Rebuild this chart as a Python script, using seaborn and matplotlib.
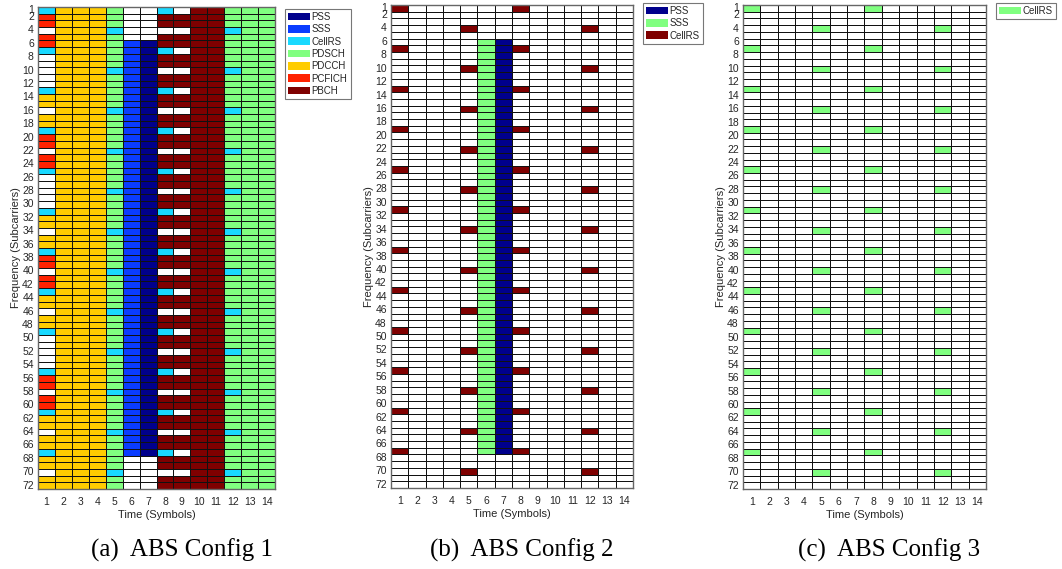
import numpy as np
import matplotlib
matplotlib.use("Agg")
import matplotlib.pyplot as plt
from matplotlib.colors import ListedColormap
from matplotlib.patches import Patch
import seaborn as sns

# ---------------- data ----------------
symbols = [1, 2, 3, 4, 5, 6, 7, 8, 9, 10, 11, 12, 13, 14]
n_subcarriers = 72
ytick_labels = [1, 2, 4, 6, 8, 10, 12, 14, 16, 18, 20, 22, 24, 26, 28, 30, 32, 34, 36,
                38, 40, 42, 44, 46, 48, 50, 52, 54, 56, 58, 60, 62, 64, 66, 68, 70, 72]

channels = ["none", "PSS", "SSS", "CellRS", "PDSCH", "PDCCH", "PCFICH", "PBCH"]

# CellRS rows (antenna port 0 / port 1 positions)
crs_rows_p0 = [1, 7, 13, 19, 25, 31, 37, 43, 49, 55, 61, 67]
crs_rows_p1 = [4, 10, 16, 22, 28, 34, 40, 46, 52, 58, 64, 70]
crs_symbols_p0 = [1, 8]
crs_symbols_p1 = [5, 12]
# PSS / SSS occupy subcarriers 6..67
sync_first, sync_last = 6, 67
pss_symbol, sss_symbol = 7, 6
# control region in symbol 1: content of each 6-subcarrier REG group
ctrl_groups = ["PCFICH", "none", "PDCCH", "PCFICH", "none", "PDCCH",
               "PCFICH", "PDCCH", "none", "PCFICH", "PDCCH", "PDCCH"]
pdcch_symbols = [2, 3, 4]
pbch_symbols = [8, 9, 10, 11]
pdsch_symbols = [5, 12, 13, 14]

# ---------------- grids ----------------
C = {n: i for i, n in enumerate(channels)}

def grid_config1():
    g = np.zeros((n_subcarriers, len(symbols)), dtype=int)
    for s in pdcch_symbols:
        g[:, s - 1] = C["PDCCH"]
    for s in pdsch_symbols:
        g[:, s - 1] = C["PDSCH"]
    for s in pbch_symbols:
        g[:, s - 1] = C["PBCH"]
    for k, kind in enumerate(ctrl_groups):
        g[6 * k:6 * k + 6, 0] = C[kind]
    g[sync_first - 1:sync_last, sss_symbol - 1] = C["SSS"]
    g[sync_first - 1:sync_last, pss_symbol - 1] = C["PSS"]
    # reference signals (port 0 and reserved port 1 positions)
    for r in crs_rows_p0:
        g[r - 1, 0] = C["CellRS"]
        g[r - 1, 7] = C["CellRS"]
        g[r - 1, 8] = C["none"]
    for r in crs_rows_p1:
        g[r - 1, 0] = C["none"]
        g[r - 1, 4] = C["CellRS"]
        g[r - 1, 7] = C["none"]
        g[r - 1, 8] = C["none"]
        g[r - 1, 11] = C["CellRS"]
    return g

def grid_config2():
    g = np.zeros((n_subcarriers, len(symbols)), dtype=int)
    g[sync_first - 1:sync_last, sss_symbol - 1] = 2
    g[sync_first - 1:sync_last, pss_symbol - 1] = 1
    for s in crs_symbols_p0:
        for r in crs_rows_p0:
            g[r - 1, s - 1] = 3
    for s in crs_symbols_p1:
        for r in crs_rows_p1:
            g[r - 1, s - 1] = 3
    return g

def grid_config3():
    g = np.zeros((n_subcarriers, len(symbols)), dtype=int)
    for s in crs_symbols_p0:
        for r in crs_rows_p0:
            g[r - 1, s - 1] = 1
    for s in crs_symbols_p1:
        for r in crs_rows_p1:
            g[r - 1, s - 1] = 1
    return g

# ---------------- styling ----------------
sns.set_theme(style="white")
plt.rcParams["font.family"] = ["Liberation Sans", "DejaVu Sans"]

WHITE = "#ffffff"
PSS_C = "#00008c"
SSS_BLUE = "#0a3cff"
CRS_CYAN = "#19d9ff"
LGREEN = "#80ff80"
GOLD = "#ffcc00"
RED = "#ff2200"
MAROON = "#7f0000"

W, H = 1062, 569
fig = plt.figure(figsize=(W / 100, H / 100), dpi=100)

def add_ax(l, r, t, b):
    return fig.add_axes([l / W, 1 - b / H, (r - l) / W, (b - t) / H])

def draw(ax, grid, colors):
    cmap = ListedColormap(colors)
    sns.heatmap(grid, ax=ax, cmap=cmap, vmin=-0.5, vmax=len(colors) - 0.5,
                cbar=False, linewidths=0.6, linecolor="#111111")
    for s in ax.spines.values():
        s.set_visible(True)
        s.set_color("#666666")
        s.set_linewidth(1.0)
    ax.set_xticks(np.arange(len(symbols)) + 0.5)
    ax.set_xticklabels([str(s) for s in symbols], rotation=0)
    ax.set_yticks(np.array(ytick_labels) - 0.5)
    ax.set_yticklabels([str(v) for v in ytick_labels], rotation=0)
    ax.tick_params(axis="both", direction="in", length=3, width=0.6, color="#333333",
                   labelsize=7.5, labelcolor="#262626", pad=3,
                   left=True, bottom=True, top=False, right=False)
    ax.tick_params(axis="x", pad=6)
    ax.set_xlabel("Time (Symbols)", fontsize=8, color="#262626", labelpad=2)
    ax.set_ylabel("Frequency (Subcarriers)", fontsize=8, color="#262626", labelpad=1)

def legend(ax, names, colors, x, y):
    handles = [Patch(facecolor=c, edgecolor="none", label=n) for n, c in zip(names, colors)]
    leg = fig.legend(handles=handles, loc="upper left", bbox_to_anchor=(x / W, 1 - y / H),
                     fontsize=7, handlelength=2.25, handleheight=0.85, handletextpad=0.2,
                     labelspacing=0.24, borderpad=0.3, borderaxespad=0, fancybox=False,
                     frameon=True)
    leg.get_frame().set_edgecolor("#555555")
    leg.get_frame().set_linewidth(0.8)
    return leg

# (a)
axa = add_ax(38, 275, 7, 489)
draw(axa, grid_config1(), [WHITE, PSS_C, SSS_BLUE, CRS_CYAN, LGREEN, GOLD, RED, MAROON])
legend(axa, ["PSS", "SSS", "CellRS", "PDSCH", "PDCCH", "PCFICH", "PBCH"],
       [PSS_C, SSS_BLUE, CRS_CYAN, LGREEN, GOLD, RED, MAROON], 285, 9)

# (b)
axb = add_ax(391, 633, 5, 488)
draw(axb, grid_config2(), [WHITE, PSS_C, LGREEN, MAROON])
legend(axb, ["PSS", "SSS", "CellRS"], [PSS_C, LGREEN, MAROON], 643, 3)

# (c)
axc = add_ax(743, 986, 5, 489)
draw(axc, grid_config3(), [WHITE, LGREEN])
legend(axc, ["CellRS"], [LGREEN], 996, 3)

# captions
cap_kw = dict(fontsize=18, family=["Liberation Serif", "DejaVu Serif"], color="black",
              ha="center", va="center")
fig.text(182 / W, 1 - 550 / H, "(a)  ABS Config 1", **cap_kw)
fig.text(522 / W, 1 - 550 / H, "(b)  ABS Config 2", **cap_kw)
fig.text(889 / W, 1 - 550 / H, "(c)  ABS Config 3", **cap_kw)

fig.savefig("out.png", dpi=100)
